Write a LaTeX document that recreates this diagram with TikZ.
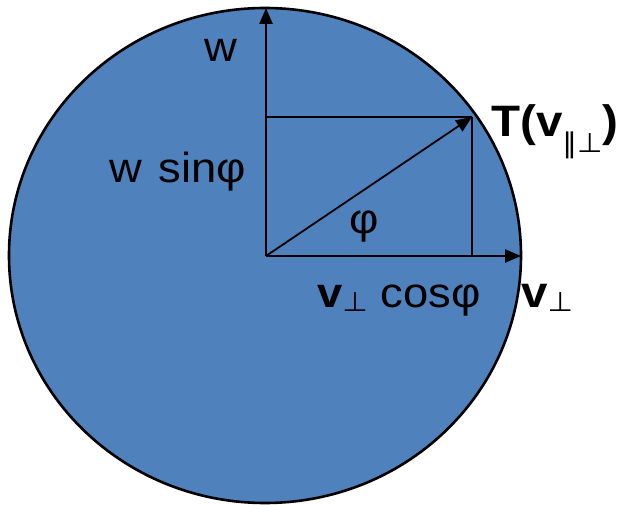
\documentclass[tikz,border=0pt]{standalone}
\usepackage{fontspec}
\setmainfont{Liberation Sans}
\newfontfamily\djv{DejaVu Sans}
\usetikzlibrary{arrows.meta}
\definecolor{discblue}{HTML}{4F81BD}
\tikzset{
  axisarrow/.style={line width=2.6pt, -{Triangle[length=16pt,width=13pt]}},
  plainline/.style={line width=2.6pt},
  thinline/.style={line width=1.5pt},
  lbl/.style={inner sep=0pt, anchor=base west, xscale=1.08, transform shape, font=\fontsize{42}{48}\selectfont},
  boldlbl/.style={lbl, font=\fontsize{44}{48}\selectfont\bfseries},
}
\newcommand{\perpsub}[1]{\raisebox{#1}{\fontsize{27}{27}\selectfont\djv\mdseries ⊥}}
\begin{document}
\begin{tikzpicture}[x=1pt,y=-1pt]
\useasboundingbox (0,0) rectangle (630,505);
\draw[fill=discblue, line width=2.6pt] (265,255.5) ellipse [x radius=256, y radius=247.5];
\coordinate (O) at (266,256);
\coordinate (xtip) at (521,256);
\coordinate (ytip) at (266,8);
\coordinate (P) at (472,117);
\coordinate (Py) at (266,117);
\coordinate (Px) at (472,256);
\draw[plainline] (Py) -- (P);
\draw[thinline] (P) -- (Px);
\draw[axisarrow] (O) -- (xtip);
\draw[axisarrow] (O) -- (ytip);
\draw[axisarrow, line width=1.8pt] (O) -- (P);
\node[lbl] (w) at (204,62) {w};
\node[lbl] (wsin) at (109,183) {w\hspace{4pt} sinφ};
\node[lbl] (phi) at (349,234) {φ};
\node[lbl] (vcos) at (317,308) {\textbf{v}\perpsub{-4pt} cosφ};
\node[boldlbl] (vperp) at (521,308) {v\perpsub{-4pt}};
\node[boldlbl] (T) at (491,137) {T(v\raisebox{-16pt}{\fontsize{27}{27}\selectfont\djv\mdseries ‖⊥})};
\end{tikzpicture}
\end{document}
